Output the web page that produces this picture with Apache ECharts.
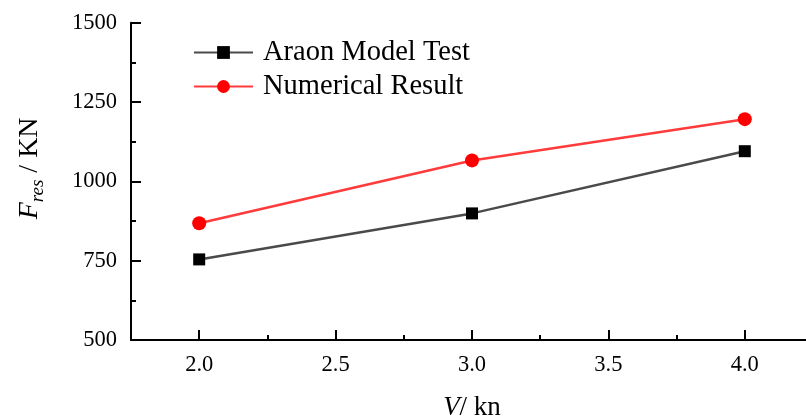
<!DOCTYPE html>
<html>
<head>
<meta charset="utf-8">
<script src="https://cdn.jsdelivr.net/npm/echarts@6/dist/echarts.min.js"></script>
<style>html,body{margin:0;padding:0;background:#fff}#c{width:806px;height:419px}</style>
</head>
<body>
<div id="c"></div>
<script>
const speeds = [2.0, 3.0, 4.0];
const araon = [754, 899, 1095];
const numerical = [868, 1066, 1196];
const xMajorTicks = [2.0, 2.5, 3.0, 3.5, 4.0];
const xMinorTicks = [2.25, 2.75, 3.25, 3.75];
const seriesNames = ['Araon Model Test', 'Numerical Result'];

const FONT = '"Liberation Serif", "Times New Roman", serif';
const chart = echarts.init(document.getElementById('c'));
chart.setOption({
  backgroundColor: '#ffffff',
  animation: false,
  grid: { left: 131, right: -7, top: 22.7, bottom: 79, outerBoundsMode: 'none', containLabel: false },
  legend: {
    orient: 'vertical', left: 188, top: 33, itemWidth: 59, itemHeight: 16, itemGap: 5,
    textStyle: { fontFamily: FONT, fontSize: 28.5, color: '#000', padding: [0, 0, 0, 5] },
    data: seriesNames
  },
  xAxis: [{
    type: 'value', min: 1.75, max: 4.25,
    name: '{i|V}{n|/ kn}', nameLocation: 'middle', nameGap: 54,
    nameTextStyle: { rich: {
      i: { fontFamily: FONT, fontSize: 27, fontStyle: 'italic', color: '#000' },
      n: { fontFamily: FONT, fontSize: 27, color: '#000' } } },
    axisLine: { lineStyle: { color: '#000', width: 2 } },
    axisTick: { inside: true, length: 10, lineStyle: { color: '#000', width: 2 }, customValues: xMajorTicks },
    axisLabel: { customValues: xMajorTicks, formatter: v => Number(v).toFixed(1), fontFamily: FONT, fontSize: 22.5, color: '#000', margin: 14 },
    splitLine: { show: false }
  }, {
    type: 'value', min: 1.75, max: 4.25, position: 'bottom',
    axisLine: { show: false },
    axisTick: { inside: true, length: 5, lineStyle: { color: '#000', width: 2 }, customValues: xMinorTicks },
    axisLabel: { show: false },
    splitLine: { show: false }
  }],
  yAxis: {
    type: 'value', min: 500, max: 1500, interval: 250,
    name: '{i|F}{s|res}{n| / KN}', nameLocation: 'middle', nameGap: 84, nameRotate: 90,
    nameTextStyle: { padding: [0, 0, 0, 26], rich: {
      i: { fontFamily: FONT, fontSize: 28, fontStyle: 'italic', color: '#000' },
      s: { fontFamily: FONT, fontSize: 19, fontStyle: 'italic', color: '#000', padding: [16, 0, 0, 0] },
      n: { fontFamily: FONT, fontSize: 28, color: '#000' } } },
    axisLine: { show: true, lineStyle: { color: '#000', width: 2 } },
    axisTick: { inside: true, length: 10, lineStyle: { color: '#000', width: 2 } },
    minorTick: { show: true, splitNumber: 2, length: 5, lineStyle: { color: '#000', width: 2 } },
    axisLabel: { formatter: v => String(v), fontFamily: FONT, fontSize: 22.5, color: '#000', margin: 14 },
    splitLine: { show: false }
  },
  series: [{
    name: seriesNames[0], type: 'line', data: speeds.map((s, i) => [s, araon[i]]),
    symbol: 'rect', symbolSize: 12,
    lineStyle: { color: '#4a4a4a', width: 2.5 }, itemStyle: { color: '#000' }
  }, {
    name: seriesNames[1], type: 'line', data: speeds.map((s, i) => [s, numerical[i]]),
    symbol: 'circle', symbolSize: 14,
    lineStyle: { color: '#ff3b3b', width: 2.5 }, itemStyle: { color: '#ff0000' }
  }]
});
</script>
</body>
</html>
